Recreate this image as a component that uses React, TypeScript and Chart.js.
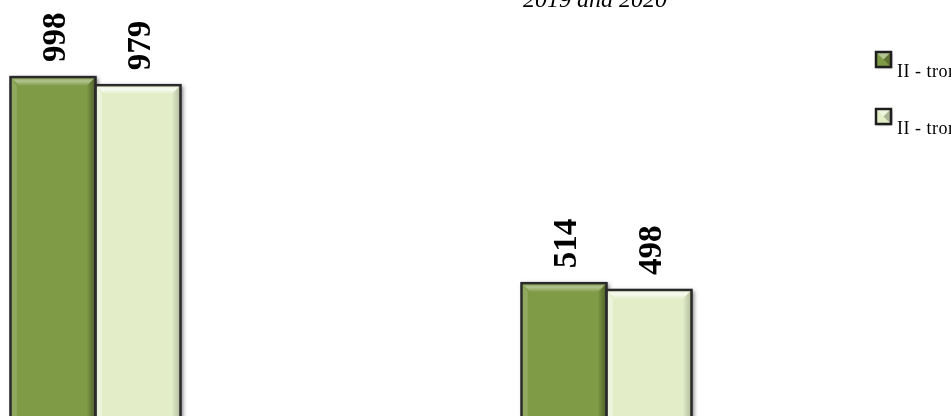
import React, { useEffect, useRef } from "react";
import { Chart, registerables } from "chart.js";

Chart.register(...registerables);

// ---- data ----
const categories = ["Category 1", "Category 2"];
const seriesNames = ["II - tromesečje 2019", "II - tromesečje 2020"];
const values2019 = [998, 514];
const values2020 = [979, 498];
const titleText = "2019 and 2020";

// ---- styling ----
const COLORS = ["#7F9B45", "#E3EEC9"];
const OFFSET_X = 160;
const CANVAS_W = 1111;
const CANVAS_H = 502;
const PAD_RIGHT = 89;

function drawBevelRect(ctx: CanvasRenderingContext2D, l: number, t: number, r: number, b: number, di: number, bw: number) {
  const topHi = di === 0 ? "rgba(255,255,255,0.40)" : "rgba(255,255,255,0.75)";
  const leftHi = di === 0 ? "rgba(255,255,255,0.14)" : "rgba(255,255,255,0.35)";
  const rightSh = di === 0 ? "rgba(0,0,0,0.40)" : "rgba(0,0,0,0.22)";
  ctx.save();
  const g = ctx.createLinearGradient(0, t, 0, t + bw);
  g.addColorStop(0, "rgba(255,255,255,0.05)");
  g.addColorStop(0.45, topHi);
  g.addColorStop(1, "rgba(255,255,255,0.0)");
  ctx.fillStyle = g;
  ctx.beginPath();
  ctx.moveTo(l, t);
  ctx.lineTo(r, t);
  ctx.lineTo(r - bw, t + bw);
  ctx.lineTo(l + bw, t + bw);
  ctx.closePath();
  ctx.fill();
  ctx.fillStyle = leftHi;
  ctx.beginPath();
  ctx.moveTo(l, t);
  ctx.lineTo(l + bw * 0.7, t + bw);
  ctx.lineTo(l + bw * 0.7, b);
  ctx.lineTo(l, b);
  ctx.closePath();
  ctx.fill();
  const gr = ctx.createLinearGradient(r - bw, 0, r, 0);
  gr.addColorStop(0, "rgba(0,0,0,0)");
  gr.addColorStop(1, rightSh);
  ctx.fillStyle = gr;
  ctx.beginPath();
  ctx.moveTo(r, t);
  ctx.lineTo(r - bw, t + bw);
  ctx.lineTo(r - bw, b);
  ctx.lineTo(r, b);
  ctx.closePath();
  ctx.fill();
  ctx.restore();
}

const decorPlugin = {
  id: "decor",
  beforeDatasetsDraw(chart: any) {
    const ctx: CanvasRenderingContext2D = chart.ctx;
    chart.data.datasets.forEach((_ds: any, di: number) => {
      const meta = chart.getDatasetMeta(di);
      meta.data.forEach((bar: any) => {
        const { x, y, base, width } = bar.getProps(["x", "y", "base", "width"], true);
        ctx.save();
        ctx.shadowColor = "rgba(0,0,0,0.5)";
        ctx.shadowBlur = 4;
        ctx.shadowOffsetX = 2;
        ctx.shadowOffsetY = 1;
        ctx.fillStyle = "#555";
        ctx.fillRect(x - width / 2, y, width, base - y);
        ctx.restore();
      });
    });
  },
  afterDatasetsDraw(chart: any) {
    const ctx: CanvasRenderingContext2D = chart.ctx;
    chart.data.datasets.forEach((ds: any, di: number) => {
      const meta = chart.getDatasetMeta(di);
      meta.data.forEach((bar: any, i: number) => {
        const { x, y, base, width } = bar.getProps(["x", "y", "base", "width"], true);
        const l = x - width / 2;
        const r = x + width / 2;
        drawBevelRect(ctx, l, y, r, base, di, 9);
        ctx.save();
        ctx.strokeStyle = "#2A2A2A";
        ctx.lineWidth = 2.5;
        ctx.strokeRect(l, y, width, base - y);
        ctx.restore();
        ctx.save();
        ctx.translate(x + 1, y - 15);
        ctx.rotate(-Math.PI / 2);
        ctx.font = "bold 33px 'Liberation Serif', serif";
        ctx.fillStyle = "#000";
        ctx.textAlign = "left";
        ctx.textBaseline = "middle";
        ctx.fillText(String(ds.data[i]), 0, 2);
        ctx.restore();
      });
    });
  },
  afterDraw(chart: any) {
    const ctx: CanvasRenderingContext2D = chart.ctx;
    ctx.save();
    ctx.font = "italic 24px 'Liberation Serif', serif";
    ctx.fillStyle = "#000";
    ctx.textAlign = "center";
    ctx.textBaseline = "alphabetic";
    ctx.fillText(titleText, 595 + OFFSET_X, 7);
    ctx.restore();
    seriesNames.forEach((name, di) => {
      const bx = 876 + OFFSET_X;
      const by = 52 + di * 57;
      const s = 15;
      ctx.save();
      ctx.shadowColor = "rgba(0,0,0,0.45)";
      ctx.shadowBlur = 2;
      ctx.shadowOffsetX = 1;
      ctx.shadowOffsetY = 1;
      ctx.fillStyle = COLORS[di];
      ctx.fillRect(bx, by, s, s);
      ctx.restore();
      ctx.save();
      ctx.fillStyle = "rgba(255,255,255,0.4)";
      ctx.beginPath();
      ctx.moveTo(bx, by);
      ctx.lineTo(bx + s, by);
      ctx.lineTo(bx + s / 2, by + s / 2);
      ctx.closePath();
      ctx.fill();
      ctx.fillStyle = "rgba(0,0,0,0.25)";
      ctx.beginPath();
      ctx.moveTo(bx + s, by);
      ctx.lineTo(bx + s, by + s);
      ctx.lineTo(bx + s / 2, by + s / 2);
      ctx.closePath();
      ctx.fill();
      ctx.strokeStyle = "#1E1E1E";
      ctx.lineWidth = 2.5;
      ctx.strokeRect(bx, by, s, s);
      ctx.font = "18px 'Liberation Serif', serif";
      (ctx as any).letterSpacing = "0.5px";
      ctx.fillStyle = "#000";
      ctx.textAlign = "left";
      ctx.textBaseline = "alphabetic";
      ctx.fillText(name, 897 + OFFSET_X, 77 + di * 57);
      ctx.restore();
    });
  },
};

export default function App() {
  const ref = useRef<HTMLCanvasElement | null>(null);
  useEffect(() => {
    document.body.style.margin = "0";
    const canvas = ref.current;
    if (!canvas) return;
    const chart = new Chart(canvas, {
      type: "bar",
      data: {
        labels: categories,
        datasets: [
          { label: seriesNames[0], data: values2019, backgroundColor: COLORS[0], borderWidth: 0, categoryPercentage: 0.3327, barPercentage: 1.0 },
          { label: seriesNames[1], data: values2020, backgroundColor: COLORS[1], borderWidth: 0, categoryPercentage: 0.3327, barPercentage: 1.0 },
        ],
      },
      options: {
        responsive: false,
        animation: false,
        devicePixelRatio: 1,
        layout: { padding: { left: 0, top: 0, bottom: 0, right: PAD_RIGHT } },
        plugins: { legend: { display: false }, title: { display: false }, tooltip: { enabled: false } },
        scales: {
          x: { display: false, grid: { display: false } },
          y: { display: false, min: 0, max: 1179, grid: { display: false } },
        },
      },
      plugins: [decorPlugin],
    });
    return () => chart.destroy();
  }, []);
  return (
    <div style={{ position: "fixed", left: 0, top: 0, width: 951, height: 416, overflow: "hidden", background: "#fff" }}>
      <canvas
        ref={ref}
        width={CANVAS_W}
        height={CANVAS_H}
        style={{ position: "absolute", left: -OFFSET_X, top: 0, width: CANVAS_W, height: CANVAS_H }}
      />
    </div>
  );
}
